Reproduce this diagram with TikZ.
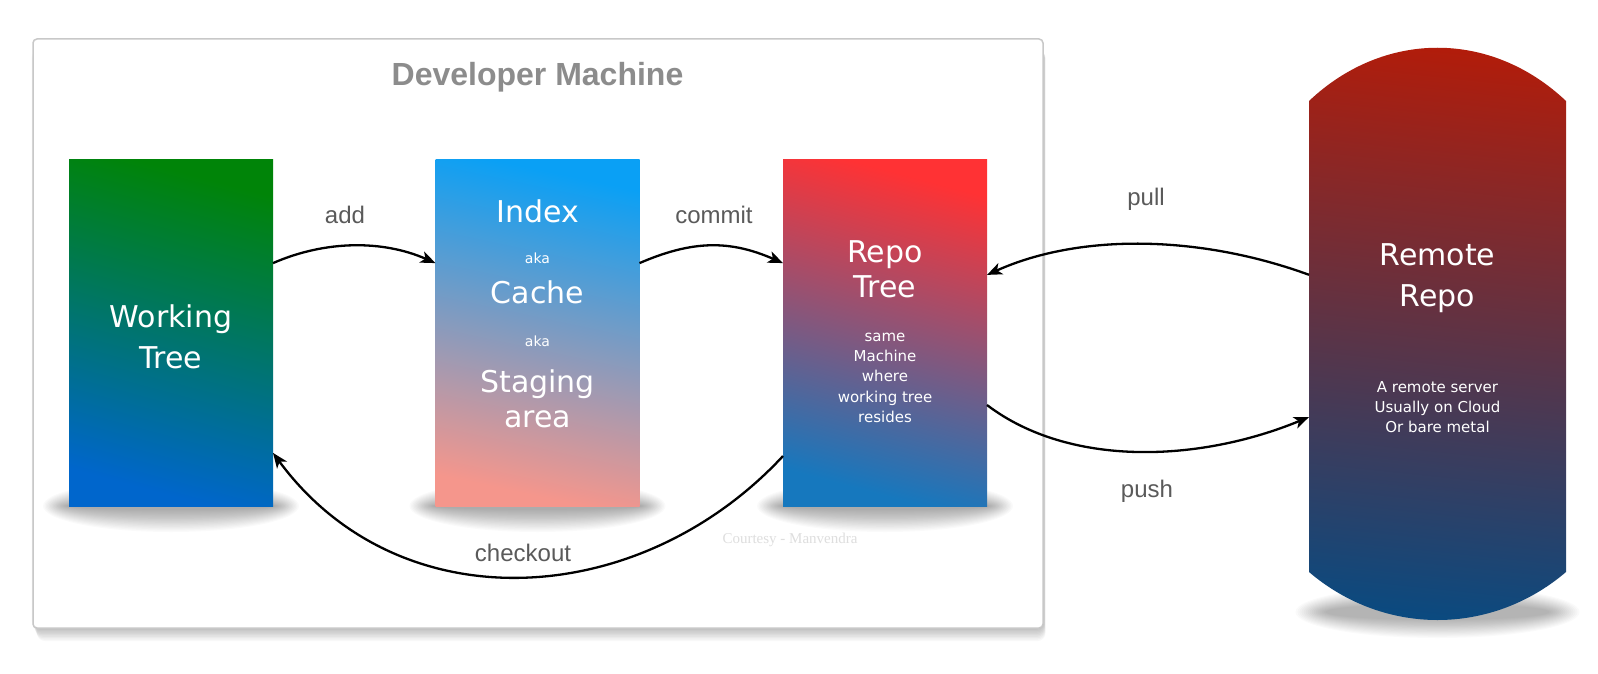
\documentclass[tikz,border=0pt]{standalone}
\usepackage{fontspec}
\setmainfont{DejaVu Sans}
\newfontfamily\labfont{Liberation Sans}
\newfontfamily\serffont{Liberation Serif}
\usetikzlibrary{arrows.meta,calc}

\definecolor{framegray}{RGB}{200,200,200}
\definecolor{titlegray}{RGB}{140,140,140}
\definecolor{labgray}{RGB}{90,90,90}
\definecolor{wttop}{RGB}{0,132,8}
\definecolor{wtbot}{RGB}{0,102,204}
\definecolor{ixtop}{RGB}{10,160,245}
\definecolor{ixmid}{RGB}{128,156,204}
\definecolor{ixbot}{RGB}{245,150,140}
\definecolor{rptop}{RGB}{255,50,52}
\definecolor{rpmid}{RGB}{165,85,118}
\definecolor{rpbot}{RGB}{22,120,190}
\definecolor{rrtop}{RGB}{178,28,10}
\definecolor{rrmid}{RGB}{92,48,66}
\definecolor{rrbot}{RGB}{10,74,128}

\begin{document}
\begin{tikzpicture}[x=1pt,y=-1pt,
  boxnode/.style={rectangle, minimum width=204pt, minimum height=347pt, inner sep=0pt, outer sep=0pt},
  bigtext/.style={text=white, font=\fontsize{30}{36}\selectfont, anchor=base, inner sep=0pt},
  akatext/.style={text=white, font=\fontsize{14}{17}\selectfont, anchor=base, inner sep=0pt},
  smalltext/.style={text=white, font=\fontsize{15}{18}\selectfont, anchor=base, inner sep=0pt},
  lbl/.style={text=labgray, font=\labfont\fontsize{24}{28}\selectfont, anchor=base, inner sep=0pt},
  conn/.style={line width=2.3pt, -{Stealth[length=15pt,width=12pt,inset=4pt]}},
  softshadow/.style={black, opacity=0.019},
]
\useasboundingbox (0,0) rectangle (1598,674);
\fill[white] (0,0) rectangle (1598,674);

% frame shadow
\foreach \i in {1,...,10}
  \fill[black, opacity=0.026, rounded corners=8pt] (31+\i*0.6, 50) rectangle (1044+\i*0.15, 627+\i*1.4);
% frame
\node[draw=framegray, line width=1.5pt, rounded corners=4pt, fill=white,
      minimum width=1010pt, minimum height=589pt, inner sep=0pt] (frame) at (538,333.5) {};
\node[text=titlegray, font=\labfont\bfseries\fontsize{32}{38}\selectfont, anchor=base, inner sep=0pt]
  (title) at (537.5,86) {Developer Machine};

% box shadows (soft, stacked)
\foreach \cx in {171,537.5,885}
  \foreach \i in {0,...,17}
    \fill[softshadow] (\cx,506) ellipse [x radius={128pt-\i*1.4pt}, y radius={26pt-\i*1.3pt}];
% remote shadow
\foreach \i in {0,...,15}
  \fill[softshadow] (1437.5,612) ellipse [x radius={142pt-\i*2pt}, y radius={26pt-\i*1.2pt}];

% boxes
\node[boxnode, shade, top color=wttop, bottom color=wtbot, shading angle=-15] (wt) at (171,332.5) {};
\node[boxnode, shade, top color=ixtop, middle color=ixmid, bottom color=ixbot, shading angle=-12] (ix) at (537.5,332.5) {};
\node[boxnode, shade, top color=rptop, middle color=rpmid, bottom color=rpbot, shading angle=-15] (rp) at (885,332.5) {};

% remote repo cylinder
\shade[top color=rrtop, middle color=rrmid, bottom color=rrbot, shading angle=-6]
  (1309,101) .. controls (1384,30) and (1491,30) .. (1566,101)
  -- (1566,572) .. controls (1491,636) and (1384,636) .. (1309,572) -- cycle;
\node[rectangle, minimum width=257pt, minimum height=471pt, inner sep=0pt, outer sep=0pt] (rr) at (1437.5,336.5) {};

% texts
\node[bigtext] (wt1) at (171,327) {Working};
\node[bigtext] (wt2) at (171,368) {Tree};

\node[bigtext] (ix1) at (537.5,222) {Index};
\node[akatext] (ix2) at (537.5,263) {aka};
\node[bigtext] (ix3) at (537.5,303) {Cache};
\node[akatext] (ix4) at (537.5,346) {aka};
\node[bigtext] (ix5) at (537.5,392) {Staging};
\node[bigtext] (ix6) at (537.5,427) {area};

\node[bigtext] (rp1) at (885,262) {Repo};
\node[bigtext] (rp2) at (885,297) {Tree};
\node[smalltext] (rp3) at (885,341) {same};
\node[smalltext] (rp4) at (885,361) {Machine};
\node[smalltext] (rp5) at (885,381) {where};
\node[smalltext] (rp6) at (885,402) {working tree};
\node[smalltext] (rp7) at (885,422) {resides};

\node[bigtext] (rr1) at (1437.5,265) {Remote};
\node[bigtext] (rr2) at (1437.5,306) {Repo};
\node[smalltext] (rr3) at (1437.5,392) {A remote server};
\node[smalltext] (rr4) at (1437.5,412) {Usually on Cloud};
\node[smalltext] (rr5) at (1437.5,432) {Or bare metal};

\node[font=\serffont\fontsize{15}{18}\selectfont, text=black!13, anchor=base, inner sep=0pt]
  (court) at (790,543) {Courtesy - Manvendra};

% connector end points
\coordinate (wtA) at ($(wt.north east)!0.30!(wt.south east)$);
\coordinate (ixA) at ($(ix.north west)!0.30!(ix.south west)$);
\coordinate (ixB) at ($(ix.north east)!0.30!(ix.south east)$);
\coordinate (rpA) at ($(rp.north west)!0.30!(rp.south west)$);
\coordinate (rpB) at ($(rp.north east)!0.334!(rp.south east)$);
\coordinate (rpC) at ($(rp.north east)!0.709!(rp.south east)$);
\coordinate (rpD) at ($(rp.north west)!0.856!(rp.south west)$);
\coordinate (wtB) at ($(wt.north east)!0.847!(wt.south east)$);
\coordinate (rrA) at ($(rr.north west)!0.369!(rr.south west)$);
\coordinate (rrB) at ($(rr.north west)!0.671!(rr.south west)$);

% connectors
\draw[conn] (wtA) .. controls (326,240) and (383,240) .. (ixA);
\draw[conn] (ixB) .. controls (693,240) and (730,240) .. (rpA);
\draw[conn] (rrA) .. controls (1200,235) and (1080,233) .. (rpB);
\draw[conn] (rpC) .. controls (1070,468) and (1200,462) .. (rrB);
\draw[conn] (rpD) .. controls (640,610) and (400,625) .. (wtB);

% labels
\node[lbl] (l1) at (345,223) {add};
\node[lbl] (l2) at (714,223) {commit};
\node[lbl] (l3) at (1146,205) {pull};
\node[lbl] (l4) at (1147,497) {push};
\node[lbl] (l5) at (523,561) {checkout};
\end{tikzpicture}
\end{document}
